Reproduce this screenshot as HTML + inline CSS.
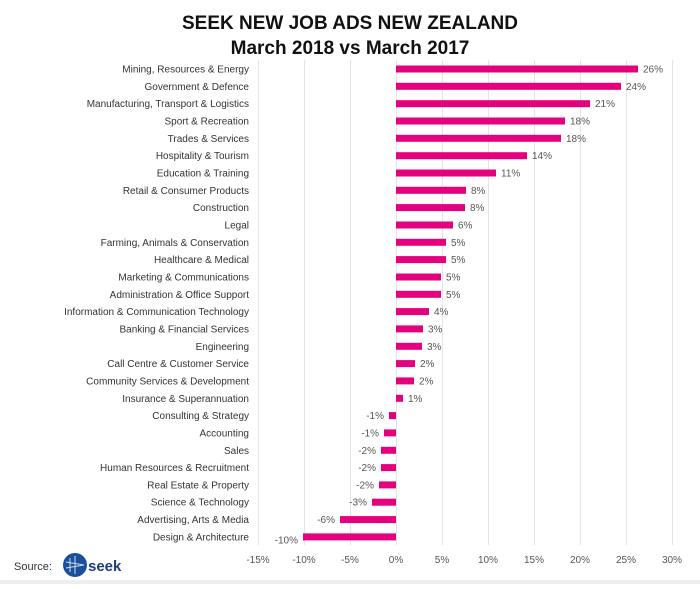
<!DOCTYPE html>
<html><head><meta charset="utf-8"><style>
html,body{margin:0;padding:0;background:#fff;}
body{width:700px;height:584px;overflow:hidden;font-family:"Liberation Sans",sans-serif;}
</style></head><body>
<svg width="700" height="584" xmlns="http://www.w3.org/2000/svg" font-family="Liberation Sans, sans-serif">
<rect x="0" y="0" width="700" height="584" fill="#fff"/>
<rect x="0" y="580" width="700" height="4" fill="#eeeeee"/>
<text x="350" y="29" text-anchor="middle" font-size="19" font-weight="bold" fill="#111">SEEK NEW JOB ADS NEW ZEALAND</text>
<text x="350" y="54" text-anchor="middle" font-size="19" font-weight="bold" fill="#111">March 2018 vs March 2017</text>
<g stroke="#e4e4e4" stroke-width="1">
<line x1="258.5" y1="60" x2="258.5" y2="545"/><line x1="304.5" y1="60" x2="304.5" y2="545"/><line x1="350.5" y1="60" x2="350.5" y2="545"/><line x1="396.5" y1="60" x2="396.5" y2="545"/><line x1="442.5" y1="60" x2="442.5" y2="545"/><line x1="488.5" y1="60" x2="488.5" y2="545"/><line x1="534.5" y1="60" x2="534.5" y2="545"/><line x1="580.5" y1="60" x2="580.5" y2="545"/><line x1="626.5" y1="60" x2="626.5" y2="545"/><line x1="672.5" y1="60" x2="672.5" y2="545"/>
</g>
<g font-size="10" fill="#555" text-anchor="middle">
<text x="258" y="563">-15%</text><text x="304" y="563">-10%</text><text x="350" y="563">-5%</text><text x="396" y="563">0%</text><text x="442" y="563">5%</text><text x="488" y="563">10%</text><text x="534" y="563">15%</text><text x="580" y="563">20%</text><text x="626" y="563">25%</text><text x="672" y="563">30%</text>
</g>
<g font-size="10" fill="#333" text-anchor="end">
<text x="249" y="72.5">Mining, Resources &amp; Energy</text>
<text x="249" y="89.8">Government &amp; Defence</text>
<text x="249" y="107.2">Manufacturing, Transport &amp; Logistics</text>
<text x="249" y="124.5">Sport &amp; Recreation</text>
<text x="249" y="141.8">Trades &amp; Services</text>
<text x="249" y="159.2">Hospitality &amp; Tourism</text>
<text x="249" y="176.5">Education &amp; Training</text>
<text x="249" y="193.8">Retail &amp; Consumer Products</text>
<text x="249" y="211.1">Construction</text>
<text x="249" y="228.5">Legal</text>
<text x="249" y="245.8">Farming, Animals &amp; Conservation</text>
<text x="249" y="263.1">Healthcare &amp; Medical</text>
<text x="249" y="280.5">Marketing &amp; Communications</text>
<text x="249" y="297.8">Administration &amp; Office Support</text>
<text x="249" y="315.1">Information &amp; Communication Technology</text>
<text x="249" y="332.4">Banking &amp; Financial Services</text>
<text x="249" y="349.8">Engineering</text>
<text x="249" y="367.1">Call Centre &amp; Customer Service</text>
<text x="249" y="384.4">Community Services &amp; Development</text>
<text x="249" y="401.8">Insurance &amp; Superannuation</text>
<text x="249" y="419.1">Consulting &amp; Strategy</text>
<text x="249" y="436.4">Accounting</text>
<text x="249" y="453.8">Sales</text>
<text x="249" y="471.1">Human Resources &amp; Recruitment</text>
<text x="249" y="488.4">Real Estate &amp; Property</text>
<text x="249" y="505.7">Science &amp; Technology</text>
<text x="249" y="523.1">Advertising, Arts &amp; Media</text>
<text x="249" y="540.4">Design &amp; Architecture</text>
</g>
<g fill="#e5007e">
<rect x="396" y="65.5" width="242" height="7"/>
<rect x="396" y="82.8" width="225" height="7"/>
<rect x="396" y="100.2" width="194" height="7"/>
<rect x="396" y="117.5" width="169" height="7"/>
<rect x="396" y="134.8" width="165" height="7"/>
<rect x="396" y="152.2" width="131" height="7"/>
<rect x="396" y="169.5" width="100" height="7"/>
<rect x="396" y="186.8" width="70" height="7"/>
<rect x="396" y="204.1" width="69" height="7"/>
<rect x="396" y="221.5" width="57" height="7"/>
<rect x="396" y="238.8" width="50" height="7"/>
<rect x="396" y="256.1" width="50" height="7"/>
<rect x="396" y="273.5" width="45" height="7"/>
<rect x="396" y="290.8" width="45" height="7"/>
<rect x="396" y="308.1" width="33" height="7"/>
<rect x="396" y="325.4" width="27" height="7"/>
<rect x="396" y="342.8" width="26" height="7"/>
<rect x="396" y="360.1" width="19" height="7"/>
<rect x="396" y="377.4" width="18" height="7"/>
<rect x="396" y="394.8" width="7" height="7"/>
<rect x="389" y="412.1" width="7" height="7"/>
<rect x="384" y="429.4" width="12" height="7"/>
<rect x="381" y="446.8" width="15" height="7"/>
<rect x="381" y="464.1" width="15" height="7"/>
<rect x="379" y="481.4" width="17" height="7"/>
<rect x="372" y="498.7" width="24" height="7"/>
<rect x="340" y="516.1" width="56" height="7"/>
<rect x="303" y="533.4" width="93" height="7"/>
</g>
<g font-size="10" fill="#555">
<text x="643" y="72.5">26%</text>
<text x="626" y="89.8">24%</text>
<text x="595" y="107.2">21%</text>
<text x="570" y="124.5">18%</text>
<text x="566" y="141.8">18%</text>
<text x="532" y="159.2">14%</text>
<text x="501" y="176.5">11%</text>
<text x="471" y="193.8">8%</text>
<text x="470" y="211.1">8%</text>
<text x="458" y="228.5">6%</text>
<text x="451" y="245.8">5%</text>
<text x="451" y="263.1">5%</text>
<text x="446" y="280.5">5%</text>
<text x="446" y="297.8">5%</text>
<text x="434" y="315.1">4%</text>
<text x="428" y="332.4">3%</text>
<text x="427" y="349.8">3%</text>
<text x="420" y="367.1">2%</text>
<text x="419" y="384.4">2%</text>
<text x="408" y="401.8">1%</text>
</g>
<g font-size="10" fill="#555" text-anchor="end">
<text x="384" y="419.1">-1%</text>
<text x="379" y="436.4">-1%</text>
<text x="376" y="453.8">-2%</text>
<text x="376" y="471.1">-2%</text>
<text x="374" y="488.4">-2%</text>
<text x="367" y="505.7">-3%</text>
<text x="335" y="523.1">-6%</text>
<text x="298" y="543.5">-10%</text>
</g>
<text x="14" y="570" font-size="11" fill="#333">Source:</text>
<circle cx="75" cy="565" r="12" fill="#1a4f9c"/>
<g stroke="#fff" stroke-width="1" opacity="0.8"><line x1="66" y1="562" x2="84" y2="565"/><line x1="66" y1="568" x2="84" y2="565"/><line x1="70" y1="558" x2="70" y2="572"/><line x1="75" y1="556" x2="75" y2="574"/></g>
<text x="88" y="571" font-size="15" font-weight="bold" fill="#1b3d7a">seek</text>
</svg>
</body></html>
